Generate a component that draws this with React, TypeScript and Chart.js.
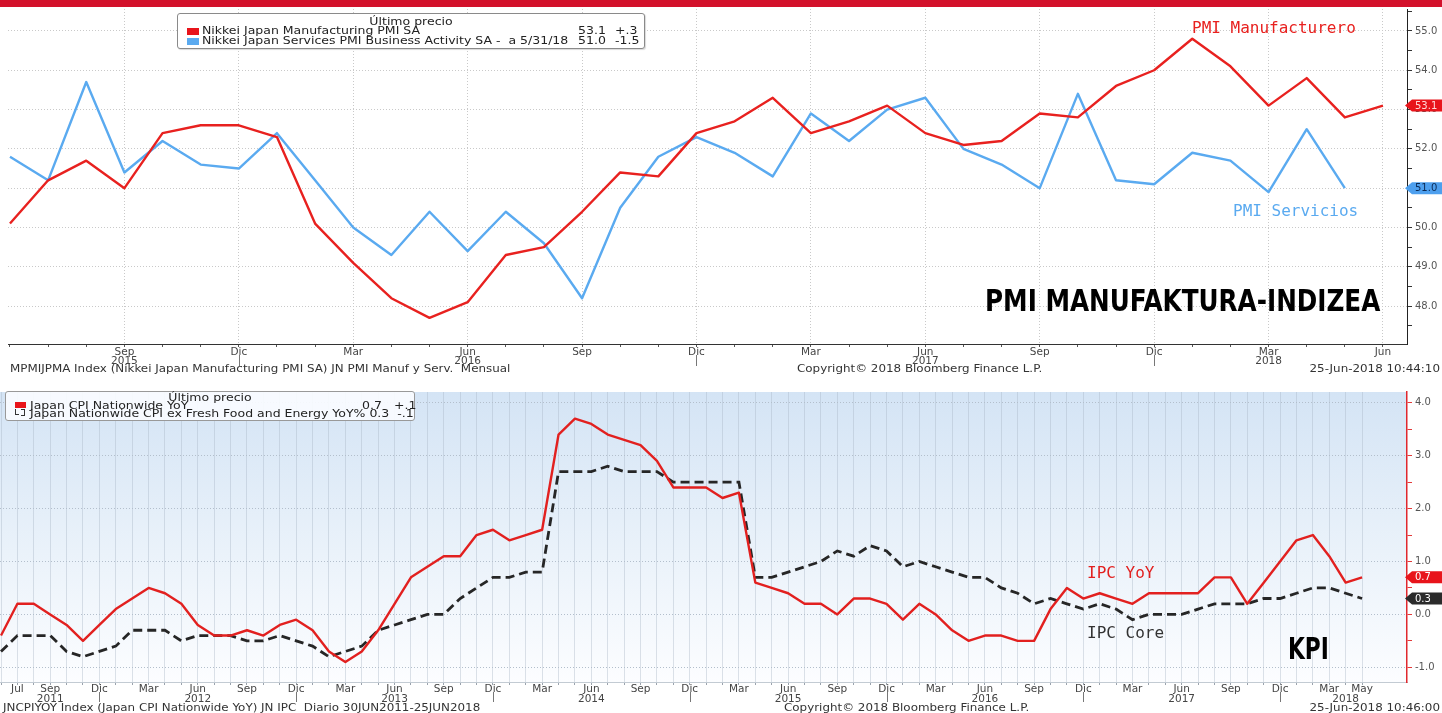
import React, { useEffect, useRef } from 'react';
import { Chart, registerables } from 'chart.js';
Chart.register(...registerables);

// ---------------- PMI panel (monthly, Jun 2015 – Jun 2018) ----------------
const pmiMonths = [
  'Jun', 'Jul', 'Ago', 'Sep', 'Oct', 'Nov', 'Dic',
  'Ene', 'Feb', 'Mar', 'Abr', 'May', 'Jun', 'Jul', 'Ago', 'Sep', 'Oct', 'Nov', 'Dic',
  'Ene', 'Feb', 'Mar', 'Abr', 'May', 'Jun', 'Jul', 'Ago', 'Sep', 'Oct', 'Nov', 'Dic',
  'Ene', 'Feb', 'Mar', 'Abr', 'May', 'Jun',
];
const pmiManufacturing = [
  50.1, 51.2, 51.7, 51.0, 52.4, 52.6, 52.6,
  52.3, 50.1, 49.1, 48.2, 47.7, 48.1, 49.3, 49.5, 50.4, 51.4, 51.3, 52.4,
  52.7, 53.3, 52.4, 52.7, 53.1, 52.4, 52.1, 52.2, 52.9, 52.8, 53.6, 54.0,
  54.8, 54.1, 53.1, 53.8, 52.8, 53.1,
];
const pmiServices = [
  51.8, 51.2, 53.7, 51.4, 52.2, 51.6, 51.5,
  52.4, 51.2, 50.0, 49.3, 50.4, 49.4, 50.4, 49.6, 48.2, 50.5, 51.8, 52.3,
  51.9, 51.3, 52.9, 52.2, 53.0, 53.3, 52.0, 51.6, 51.0, 53.4, 51.2, 51.1,
  51.9, 51.7, 50.9, 52.5, 51.0,
];
const pmiShownMonths = ['Sep', 'Dic', 'Mar', 'Jun'];
const pmiHiddenTickIndex = [0];
const pmiYearTickIndex = [3, 12, 24, 33];
const pmiYearTickText = ['2015', '2016', '2017', '2018'];
const pmiYTicks = [47.5, 48, 48.5, 49, 49.5, 50, 50.5, 51, 51.5, 52, 52.5, 53, 53.5, 54, 54.5, 55, 55.5];

// ---------------- CPI panel (monthly, Jun 2011 – May 2018) ----------------
const cpiMonths = [
  'Jun', 'Jul', 'Ago', 'Sep', 'Oct', 'Nov', 'Dic', 'Ene', 'Feb', 'Mar', 'Abr', 'May',
  'Jun', 'Jul', 'Ago', 'Sep', 'Oct', 'Nov', 'Dic', 'Ene', 'Feb', 'Mar', 'Abr', 'May',
  'Jun', 'Jul', 'Ago', 'Sep', 'Oct', 'Nov', 'Dic', 'Ene', 'Feb', 'Mar', 'Abr', 'May',
  'Jun', 'Jul', 'Ago', 'Sep', 'Oct', 'Nov', 'Dic', 'Ene', 'Feb', 'Mar', 'Abr', 'May',
  'Jun', 'Jul', 'Ago', 'Sep', 'Oct', 'Nov', 'Dic', 'Ene', 'Feb', 'Mar', 'Abr', 'May',
  'Jun', 'Jul', 'Ago', 'Sep', 'Oct', 'Nov', 'Dic', 'Ene', 'Feb', 'Mar', 'Abr', 'May',
  'Jun', 'Jul', 'Ago', 'Sep', 'Oct', 'Nov', 'Dic', 'Ene', 'Feb', 'Mar', 'Abr', 'May',
];
const cpiYoY = [
  -0.4, 0.2, 0.2, 0.0, -0.2, -0.5, -0.2, 0.1, 0.3, 0.5, 0.4, 0.2,
  -0.2, -0.4, -0.4, -0.3, -0.4, -0.2, -0.1, -0.3, -0.7, -0.9, -0.7, -0.3,
  0.2, 0.7, 0.9, 1.1, 1.1, 1.5, 1.6, 1.4, 1.5, 1.6, 3.4, 3.7,
  3.6, 3.4, 3.3, 3.2, 2.9, 2.4, 2.4, 2.4, 2.2, 2.3, 0.6, 0.5,
  0.4, 0.2, 0.2, 0.0, 0.3, 0.3, 0.2, -0.1, 0.2, 0.0, -0.3, -0.5,
  -0.4, -0.4, -0.5, -0.5, 0.1, 0.5, 0.3, 0.4, 0.3, 0.2, 0.4, 0.4,
  0.4, 0.4, 0.7, 0.7, 0.2, 0.6, 1.0, 1.4, 1.5, 1.1, 0.6, 0.7,
];
const cpiCore = [
  -0.7, -0.4, -0.4, -0.4, -0.7, -0.8, -0.7, -0.6, -0.3, -0.3, -0.3, -0.5,
  -0.4, -0.4, -0.4, -0.5, -0.5, -0.4, -0.5, -0.6, -0.8, -0.7, -0.6, -0.3,
  -0.2, -0.1, 0.0, 0.0, 0.3, 0.5, 0.7, 0.7, 0.8, 0.8, 2.7, 2.7,
  2.7, 2.8, 2.7, 2.7, 2.7, 2.5, 2.5, 2.5, 2.5, 2.5, 0.7, 0.7,
  0.8, 0.9, 1.0, 1.2, 1.1, 1.3, 1.2, 0.9, 1.0, 0.9, 0.8, 0.7,
  0.7, 0.5, 0.4, 0.2, 0.3, 0.2, 0.1, 0.2, 0.1, -0.1, 0.0, 0.0,
  0.0, 0.1, 0.2, 0.2, 0.2, 0.3, 0.3, 0.4, 0.5, 0.5, 0.4, 0.3,
];
const cpiShownMonths = ['Sep', 'Dic', 'Mar', 'Jun'];
const cpiEdgeTickIndex = [1, 83];
const cpiHiddenTickIndex = [0];
const cpiYearTickIndex = [3, 12, 24, 36, 48, 60, 72, 82];
const cpiYearTickText = ['2011', '2012', '2013', '2014', '2015', '2016', '2017', '2018'];
const cpiYTicks = [-1, -0.5, 0, 0.5, 1, 1.5, 2, 2.5, 3, 3.5, 4];

const FONT = "'DejaVu Sans', Verdana, sans-serif";
const MONO = "'DejaVu Sans Mono', monospace";
const NARROW = "'Liberation Sans Narrow', 'DejaVu Sans Condensed', sans-serif";

const RED = '#e8211f';
const BLUE = '#5aaaf0';
const CPI_RED = '#e2201f';
const CORE = '#262626';
const CLEAR = 'rgba(0,0,0,0)';

const lastValueTags = {
  id: 'lastValueTags',
  afterDraw(chart: any, _a: any, opts: any) {
    const { ctx, chartArea } = chart;
    const y = chart.scales.y;
    (opts.tags || []).forEach((t: any) => {
      const data = chart.data.datasets[t.dataset].data;
      const last = data[data.length - 1];
      const py = y.getPixelForValue(last.y);
      const x0 = chartArea.right - 2;
      const h = 12;
      ctx.save();
      ctx.beginPath();
      ctx.moveTo(x0, py);
      ctx.lineTo(x0 + 7, py - h / 2);
      ctx.lineTo(chart.width, py - h / 2);
      ctx.lineTo(chart.width, py + h / 2);
      ctx.lineTo(x0 + 7, py + h / 2);
      ctx.closePath();
      ctx.fillStyle = t.fill;
      ctx.fill();
      ctx.fillStyle = t.color;
      ctx.font = `10px ${FONT}`;
      ctx.textBaseline = 'middle';
      ctx.textAlign = 'left';
      ctx.fillText(last.y.toFixed(1), x0 + 10, py + 0.5);
      ctx.restore();
    });
  },
};

const yearSeparators = {
  id: 'yearSeparators',
  afterDraw(chart: any, _a: any, opts: any) {
    const { ctx, chartArea } = chart;
    const x = chart.scales.x;
    ctx.save();
    ctx.strokeStyle = opts.color || '#666';
    ctx.lineWidth = 1;
    (opts.indices || []).forEach((i: number) => {
      const px = Math.round(x.getPixelForValue(i)) + 0.5;
      ctx.beginPath();
      ctx.moveTo(px, chartArea.bottom + opts.from);
      ctx.lineTo(px, chartArea.bottom + opts.to);
      ctx.stroke();
    });
    ctx.restore();
  },
};

const gradientBg = {
  id: 'gradientBg',
  beforeDraw(chart: any, _a: any, opts: any) {
    if (!opts.enabled) return;
    const { ctx, chartArea } = chart;
    const { left, top, right, bottom } = chartArea;
    const g = ctx.createLinearGradient(0, top, 0, bottom);
    g.addColorStop(0, '#d4e4f5');
    g.addColorStop(0.55, '#eaf2fa');
    g.addColorStop(1, '#fcfdff');
    ctx.save();
    ctx.fillStyle = g;
    ctx.fillRect(left, top, right - left, bottom - top);
    ctx.restore();
  },
};

function pmiTickLabel(i: number): any {
  if (pmiHiddenTickIndex.includes(i)) return '';
  const m = pmiMonths[i];
  const yi = pmiYearTickIndex.indexOf(i);
  const shown = pmiShownMonths.includes(m) ? m : '';
  if (yi >= 0) return [shown, pmiYearTickText[yi]];
  return shown;
}

function cpiTickLabel(i: number): any {
  if (cpiHiddenTickIndex.includes(i)) return '';
  const m = cpiMonths[i];
  const yi = cpiYearTickIndex.indexOf(i);
  const shown = cpiShownMonths.includes(m) || cpiEdgeTickIndex.includes(i) ? m : '';
  if (yi >= 0) return [shown, cpiYearTickText[yi]];
  return shown;
}

function makePmiChart(canvas: HTMLCanvasElement) {
  return new Chart(canvas, {
    type: 'line',
    data: {
      datasets: [
        {
          label: 'Nikkei Japan Manufacturing PMI SA',
          data: pmiManufacturing.map((v, i) => ({ x: i, y: v })),
          borderColor: RED,
          borderWidth: 2.4,
          pointRadius: 0,
          tension: 0,
          borderJoinStyle: 'round',
        },
        {
          label: 'Nikkei Japan Services PMI Business Activity SA',
          data: pmiServices.map((v, i) => ({ x: i, y: v })),
          borderColor: BLUE,
          borderWidth: 2.4,
          pointRadius: 0,
          tension: 0,
          borderJoinStyle: 'round',
        },
      ],
    },
    plugins: [lastValueTags, yearSeparators],
    options: {
      responsive: false,
      animation: false,
      devicePixelRatio: 1,
      layout: { padding: { left: 8, top: 8, right: 0, bottom: 0 } },
      scales: {
        x: {
          type: 'linear',
          min: -0.052,
          max: 36.63,
          afterBuildTicks: (s: any) => {
            s.ticks = pmiMonths.map((_, i) => ({ value: i }));
          },
          afterFit: (s: any) => {
            s.height = 39;
          },
          ticks: {
            autoSkip: false,
            maxRotation: 0,
            minRotation: 0,
            padding: 0,
            color: '#444',
            font: { family: FONT, size: 10.5, lineHeight: 0.92 },
            callback: (v: any) => pmiTickLabel(Number(v)),
          },
          grid: {
            color: (c: any) =>
              c.tick && c.tick.value > 0 && pmiShownMonths.includes(pmiMonths[c.tick.value]) ? '#c9c9c9' : CLEAR,
            tickColor: '#555',
            tickLength: 3,
            lineWidth: 1,
          },
          border: { color: '#333', width: 1, dash: [1, 2] },
        },
        y: {
          position: 'right',
          min: 47.036,
          max: 55.558,
          afterBuildTicks: (s: any) => {
            s.ticks = pmiYTicks.map((v) => ({ value: v }));
          },
          afterFit: (s: any) => {
            s.width = 35;
          },
          ticks: {
            color: '#555',
            padding: 3,
            font: { family: FONT, size: 10 },
            callback: (v: any) => (Number.isInteger(Number(v)) ? Number(v).toFixed(1) : ''),
          },
          grid: {
            color: (c: any) => (c.tick && Number.isInteger(c.tick.value) ? '#c9c9c9' : CLEAR),
            tickColor: '#333',
            tickLength: 5,
          },
          border: { color: '#222', width: 1, dash: [1, 2] },
        },
      },
      plugins: {
        legend: { display: false },
        tooltip: { enabled: false },
        lastValueTags: {
          tags: [
            { dataset: 0, fill: '#e8141b', color: '#ffd8d8' },
            { dataset: 1, fill: '#4d9fee', color: '#0b2a55' },
          ],
        },
        yearSeparators: {
          indices: pmiMonths.map((m, i) => (m === 'Dic' ? i : -1)).filter((i) => i >= 0),
          from: 11,
          to: 22,
          color: '#777',
        },
      } as any,
    },
  } as any);
}

function makeCpiChart(canvas: HTMLCanvasElement) {
  return new Chart(canvas, {
    type: 'line',
    data: {
      datasets: [
        {
          label: 'Japan CPI Nationwide YoY',
          data: cpiYoY.map((v, i) => ({ x: i, y: v })),
          borderColor: CPI_RED,
          borderWidth: 2.4,
          pointRadius: 0,
          tension: 0,
          borderJoinStyle: 'round',
        },
        {
          label: 'Japan Nationwide CPI ex Fresh Food and Energy YoY%',
          data: cpiCore.map((v, i) => ({ x: i, y: v })),
          borderColor: CORE,
          borderWidth: 2.8,
          borderDash: [9, 5],
          pointRadius: 0,
          tension: 0,
        },
      ],
    },
    plugins: [gradientBg, lastValueTags, yearSeparators],
    options: {
      responsive: false,
      animation: false,
      devicePixelRatio: 1,
      layout: { padding: { left: 0, top: 3, right: 0, bottom: 0 } },
      scales: {
        x: {
          type: 'linear',
          min: -0.061,
          max: 85.74,
          afterBuildTicks: (s: any) => {
            s.ticks = cpiMonths.map((_, i) => ({ value: i }));
          },
          afterFit: (s: any) => {
            s.height = 31;
          },
          ticks: {
            autoSkip: false,
            maxRotation: 0,
            minRotation: 0,
            padding: 0,
            color: '#444',
            font: { family: FONT, size: 10.5, lineHeight: 0.88 },
            callback: (v: any) => cpiTickLabel(Number(v)),
          },
          grid: {
            color: 'rgba(165,178,195,0.38)',
            tickColor: '#9aa3ad',
            tickLength: 3,
            lineWidth: 1,
          },
          border: { color: '#c3cbd3', width: 1 },
        },
        y: {
          position: 'right',
          min: -1.278,
          max: 4.204,
          afterBuildTicks: (s: any) => {
            s.ticks = cpiYTicks.map((v) => ({ value: v }));
          },
          afterFit: (s: any) => {
            s.width = 35;
          },
          ticks: {
            color: '#555',
            padding: 3,
            font: { family: FONT, size: 10 },
            callback: (v: any) => (Number.isInteger(Number(v)) ? Number(v).toFixed(1) : ''),
          },
          grid: {
            color: (c: any) => (c.tick && Number.isInteger(c.tick.value) ? '#b3bfcc' : CLEAR),
            tickColor: '#e23a3a',
            tickLength: 5,
          },
          border: { color: '#e0282e', width: 1.5, dash: [1, 2] },
        },
      },
      plugins: {
        legend: { display: false },
        tooltip: { enabled: false },
        gradientBg: { enabled: true },
        lastValueTags: {
          tags: [
            { dataset: 0, fill: '#e8141b', color: '#ffffff' },
            { dataset: 1, fill: '#2b2b2b', color: '#ffffff' },
          ],
        },
        yearSeparators: {
          indices: cpiMonths.map((m, i) => (m === 'Dic' ? i : -1)).filter((i) => i >= 0),
          from: 10,
          to: 20,
          color: '#777',
        },
      } as any,
    },
  } as any);
}

const Txt = ({ x, y, size = 10, color = '#222', family = FONT, weight = 'normal', sx = 1, origin = 'left top', children, style }: any) => (
  <div
    style={{
      position: 'absolute',
      left: x,
      top: y,
      fontSize: size,
      lineHeight: 1,
      color,
      fontFamily: family,
      fontWeight: weight,
      whiteSpace: 'pre',
      transform: sx !== 1 ? `scaleX(${sx})` : undefined,
      transformOrigin: origin,
      ...style,
    }}
  >
    {children}
  </div>
);

const LEG_SX = 1.25;
const FOOT_SX = 1.19;

export default function App() {
  const topRef = useRef<HTMLCanvasElement>(null);
  const botRef = useRef<HTMLCanvasElement>(null);

  useEffect(() => {
    const c1 = makePmiChart(topRef.current!);
    const c2 = makeCpiChart(botRef.current!);
    return () => {
      c1.destroy();
      c2.destroy();
    };
  }, []);

  return (
    <div
      style={{
        position: 'absolute',
        left: 0,
        top: 0,
        width: 1442,
        height: 713,
        overflow: 'hidden',
        background: '#ffffff',
        fontFamily: FONT,
      }}
    >
      <canvas ref={topRef} width={1442} height={383} style={{ position: 'absolute', left: 0, top: 0 }} />
      <canvas ref={botRef} width={1442} height={330} style={{ position: 'absolute', left: 0, top: 383 }} />
      <div style={{ position: 'absolute', left: 0, top: 0, width: 1442, height: 7, background: '#d3112b' }} />

      {/* top legend */}
      <div
        style={{
          position: 'absolute',
          left: 177,
          top: 13,
          width: 466,
          height: 34,
          border: '1px solid #8a8a8a',
          borderRadius: 3,
          background: '#ffffff',
          boxShadow: '1px 1px 1px rgba(0,0,0,0.15)',
        }}
      />
      <Txt x={177} y={17} sx={LEG_SX} origin="center top" style={{ width: 468, textAlign: 'center' }}>Último precio</Txt>
      <div style={{ position: 'absolute', left: 187, top: 28, width: 12, height: 7, background: '#e8141b' }} />
      <div style={{ position: 'absolute', left: 187, top: 38, width: 12, height: 7, background: BLUE }} />
      <Txt x={202} y={26} sx={LEG_SX}>Nikkei Japan Manufacturing PMI SA</Txt>
      <Txt x={578} y={26} sx={LEG_SX}>53.1</Txt>
      <Txt x={615} y={26} sx={LEG_SX}>+.3</Txt>
      <Txt x={202} y={36} sx={LEG_SX}>Nikkei Japan Services PMI Business Activity SA -  a 5/31/18</Txt>
      <Txt x={578} y={36} sx={LEG_SX}>51.0</Txt>
      <Txt x={615} y={36} sx={LEG_SX}>-1.5</Txt>

      {/* top annotations */}
      <Txt x={1192} y={20} size={16} family={MONO} color={RED}>PMI Manufacturero</Txt>
      <Txt x={1233} y={203} size={16} family={MONO} color={BLUE}>PMI Servicios</Txt>
      <Txt x={985} y={285} size={31} family={NARROW} weight="bold" color="#000" sx={0.885}>PMI MANUFAKTURA-INDIZEA</Txt>

      {/* top footer */}
      <Txt x={10} y={364} color="#333" sx={FOOT_SX}>MPMIJPMA Index (Nikkei Japan Manufacturing PMI SA) JN PMI Manuf y Serv.  Mensual</Txt>
      <Txt x={797} y={364} color="#333" sx={FOOT_SX}>Copyright© 2018 Bloomberg Finance L.P.</Txt>
      <Txt x={1000} y={364} color="#333" sx={FOOT_SX} origin="right top" style={{ width: 440, textAlign: 'right' }}>25-Jun-2018 10:44:10</Txt>

      {/* bottom legend */}
      <div
        style={{
          position: 'absolute',
          left: 5,
          top: 391,
          width: 408,
          height: 28,
          border: '1px solid #999',
          borderRadius: 3,
          background: 'rgba(250,252,255,0.92)',
        }}
      />
      <Txt x={5} y={393} sx={LEG_SX} origin="center top" style={{ width: 410, textAlign: 'center' }}>Último precio</Txt>
      <div style={{ position: 'absolute', left: 15, top: 402, width: 11, height: 6, background: '#e8141b' }} />
      <div style={{ position: 'absolute', left: 15, top: 409, width: 3, height: 5, borderLeft: '1px solid #333', borderBottom: '1px solid #333' }} />
      <div style={{ position: 'absolute', left: 21, top: 409, width: 3, height: 5, borderRight: '1px solid #333', borderTop: '1px solid #333', borderBottom: '1px solid #333' }} />
      <Txt x={30} y={401} sx={LEG_SX}>Japan CPI Nationwide YoY</Txt>
      <Txt x={362} y={401} sx={LEG_SX}>0.7</Txt>
      <Txt x={394} y={401} sx={LEG_SX}>+.1</Txt>
      <Txt x={30} y={409} sx={LEG_SX}>Japan Nationwide CPI ex Fresh Food and Energy YoY% 0.3  -.1</Txt>

      {/* bottom annotations */}
      <Txt x={1087} y={565} size={16} family={MONO} color={CPI_RED}>IPC YoY</Txt>
      <Txt x={1087} y={625} size={16} family={MONO} color="#333">IPC Core</Txt>
      <Txt x={1288} y={633} size={31} family={NARROW} weight="bold" color="#000" sx={0.78}>KPI</Txt>

      {/* bottom footer */}
      <Txt x={3} y={703} color="#333" sx={FOOT_SX}>JNCPIYOY Index (Japan CPI Nationwide YoY) JN IPC  Diario 30JUN2011-25JUN2018</Txt>
      <Txt x={784} y={703} color="#333" sx={FOOT_SX}>Copyright© 2018 Bloomberg Finance L.P.</Txt>
      <Txt x={1000} y={703} color="#333" sx={FOOT_SX} origin="right top" style={{ width: 440, textAlign: 'right' }}>25-Jun-2018 10:46:00</Txt>
    </div>
  );
}
